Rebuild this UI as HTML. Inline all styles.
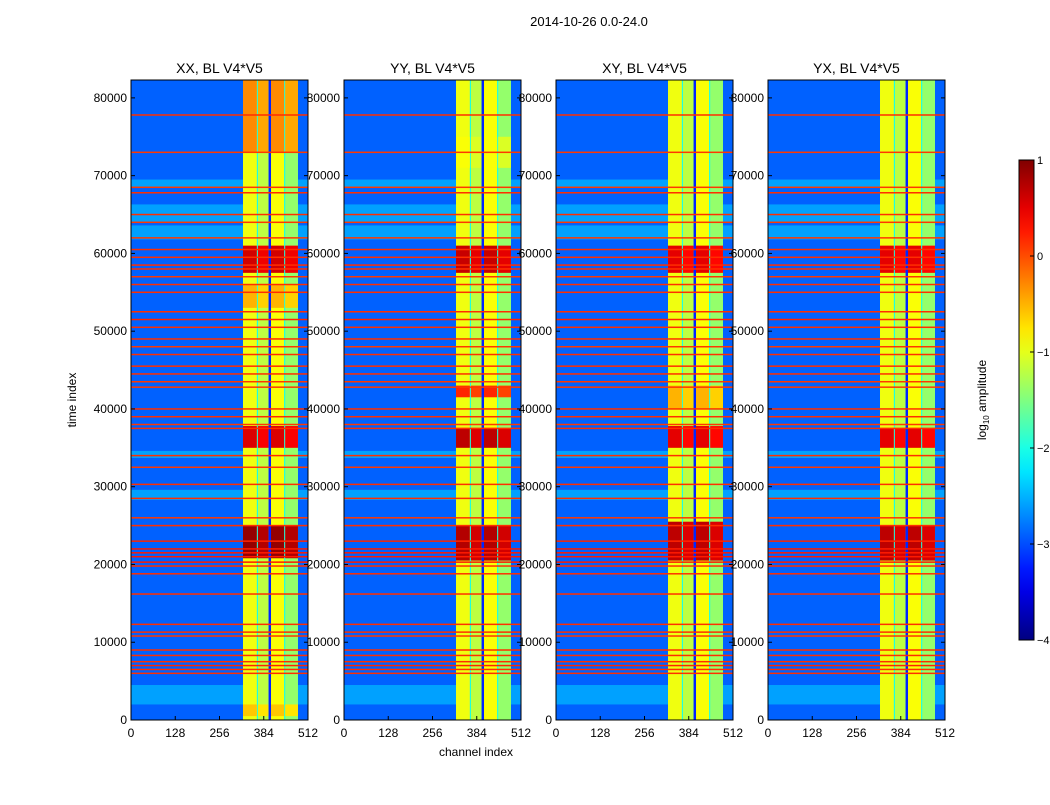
<!DOCTYPE html>
<html><head><meta charset="utf-8">
<style>
body{margin:0;background:#fff;font-family:"Liberation Sans",sans-serif;}
svg text{font-family:"Liberation Sans",sans-serif;fill:#000;}
</style></head>
<body>
<svg id="chart" width="1050" height="800" viewBox="0 0 1050 800" xmlns="http://www.w3.org/2000/svg">
<text x="589" y="26" font-size="13" text-anchor="middle">2014-10-26 0.0-24.0</text>
<text x="476" y="756" font-size="12" text-anchor="middle">channel index</text>
<text x="76" y="400" font-size="12" text-anchor="middle" transform="rotate(-90 76 400)">time index</text>
<g id="panels"></g>
<g id="cbar"></g>
</svg>
<script>
const panelTitles = ["XX, BL V4*V5","YY, BL V4*V5","XY, BL V4*V5","YX, BL V4*V5"];
const xTicks = [0,128,256,384,512];
const yTicks = [0,10000,20000,30000,40000,50000,60000,70000,80000];
const cbarTicks = [1,0,-1,-2,-3,-4];
const rfiTimes = [6000,6500,7000,7500,8300,9000,10800,11300,12300,16200,18800,19800,20300,21000,21500,22000,23000,25000,26000,28500,30300,32500,34000,37500,38000,39000,40000,42800,43500,44500,45500,47000,48000,49000,50500,51500,52500,55000,56000,57000,58000,58500,59500,60500,62000,64000,65000,67800,68500,73000,77800];
const rfiLevel = [0.1,0.1,0.15,0.1,0.1,0.1,0.05,0.1,0.1,0.1,0.1,0.1,0.2,0.2,0.2,0.2,0.15,0.1,0.05,0.1,0.1,0.05,0.1,0.1,0.05,0.1,0.1,0.05,0.05,0.1,0.1,0.1,0.05,0.1,0.1,0.15,0.1,0.1,0.1,0.05,0.1,0.1,0.1,0.1,0.05,0.05,0.1,0.1,0.05,0.05,0.1];
const cyanRows = [[28300,29600],[33700,34600],[61800,63600],[64000,66300],[68500,69500],[2000,4500]];
const bandCols = [[324,364],[367,398],[405,443],[446,483]];
const bandBase = [-0.95,-1.2,-0.9,-1.4];
const hotXX = [[20800,25000,0.9],[35000,37800,0.55],[57500,61000,0.6],[53000,56000,-0.5],[73000,82300,-0.3],[500,2000,-0.6]];
const hotYY = [[20500,25000,0.75],[35000,37500,0.7],[41500,43000,0.2],[57500,61000,0.65],[71000,75000,-0.9]];
const hotXY = [[20500,25500,0.7],[35000,37800,0.5],[57500,61000,0.5],[40000,43000,-0.5]];
const hotYX = [[20500,25000,0.7],[35000,37500,0.5],[57500,61000,0.5]];
const hotSets = [hotXX,hotYY,hotXY,hotYX];
const panelLeft = [131,344,556,768];

const NS="http://www.w3.org/2000/svg";
function mk(tag,attrs,parent){const e=document.createElementNS(NS,tag);for(const k in attrs)e.setAttribute(k,attrs[k]);parent.appendChild(e);return e;}
function jet(v){let t=(v+4)/5;t=Math.max(0,Math.min(1,t));
 const r=Math.max(0,Math.min(1,1.5-Math.abs(4*t-3))),g=Math.max(0,Math.min(1,1.5-Math.abs(4*t-2))),b=Math.max(0,Math.min(1,1.5-Math.abs(4*t-1)));
 return `rgb(${Math.round(r*255)},${Math.round(g*255)},${Math.round(b*255)})`;}
const PW=177, TOP=80, BOT=720, TMAX=82300;
const yS=t=>BOT-(t/TMAX)*(BOT-TOP);
const panelsG=document.getElementById('panels');
panelTitles.forEach((title,p)=>{
 const L=panelLeft[p]; const xS=c=>L+c/512*PW;
 const g=mk('g',{},panelsG);
 
 
 const bg=mk('rect',{x:L,y:TOP,width:PW,height:BOT-TOP,fill:jet(-2.9)},g);
 
 
 cyanRows.forEach(r=>{const e=mk('rect',{x:L,y:yS(r[1]),width:PW,height:yS(r[0])-yS(r[1]),fill:jet(-2.2),opacity:0.45},g);
  
  });
 const bb=mk('rect',{x:xS(bandCols[0][0]),y:TOP,width:xS(bandCols[3][1])-xS(bandCols[0][0]),height:BOT-TOP,fill:jet(-2.1)},g);
 
 
 bandCols.forEach((c,i)=>{const e=mk('rect',{x:xS(c[0]),y:TOP,width:xS(c[1])-xS(c[0]),height:BOT-TOP,fill:jet(bandBase[i])},g);
  
  
  hotSets[p].forEach(h=>{const lo=Math.min(h[0],h[1]),hi=Math.max(h[0],h[1]);
   const r=mk('rect',{x:xS(c[0]),y:yS(hi),width:xS(c[1])-xS(c[0]),height:yS(lo)-yS(hi),fill:jet(h[2]-(i%2)*0.15)},g);
   
   });
 });
 const gap=mk('rect',{x:xS(bandCols[1][1]),y:TOP,width:xS(bandCols[2][0])-xS(bandCols[1][1]),height:BOT-TOP,fill:jet(-3.2)},g);
 
 
 rfiTimes.forEach((t,i)=>{const e=mk('rect',{x:L,y:yS(t)-0.75,width:PW,height:1.5,fill:jet(rfiLevel[i]+0.05)},g);
  
  });
 const fr=mk('rect',{x:L,y:TOP,width:PW,height:BOT-TOP,fill:'none',stroke:'#000','stroke-width':1},g);
 
 
 const tt=mk('text',{x:L+PW/2,y:73,'font-size':14,'text-anchor':'middle'},g); tt.textContent=title;
 
 
 xTicks.forEach(v=>{const x=xS(v);
  mk('line',{x1:x,x2:x,y1:BOT,y2:BOT-4,stroke:'#000'},g);
  const tx=mk('text',{x:x,y:737,'font-size':12,'text-anchor':'middle'},g); tx.textContent=v;
  
  });
 yTicks.forEach(v=>{const y=yS(v);
  mk('line',{x1:L,x2:L+4,y1:y,y2:y,stroke:'#000'},g);
  mk('line',{x1:L+PW,x2:L+PW-4,y1:y,y2:y,stroke:'#000'},g);
  const ty=mk('text',{x:L-4,y:y+4,'font-size':12,'text-anchor':'end'},g); ty.textContent=v;
  
  });
});
// colorbar
const cb=document.getElementById('cbar');
const defs=mk('defs',{},cb);
const grad=mk('linearGradient',{id:'jetg',x1:0,y1:1,x2:0,y2:0},defs);
for(let i=0;i<=20;i++){mk('stop',{offset:i/20,'stop-color':jet(-4+5*i/20)},grad);}
const CT=160,CB=640,cS=v=>CB-(v+4)/5*(CB-CT);
const cr=mk('rect',{x:1019,y:CT,width:15,height:CB-CT,fill:'url(#jetg)',stroke:'#000'},cb);


cbarTicks.forEach(v=>{const y=cS(v);
 mk('line',{x1:1030,x2:1034,y1:y,y2:y,stroke:'#000'},cb);
 const t=mk('text',{x:1037,y:y+4,'font-size':11},cb); t.textContent=v<0?'\u2212'+(-v):v;
 
 });
const cl=mk('text',{x:986,y:400,'font-size':12,'text-anchor':'middle',transform:'rotate(-90 986 400)'},cb);


cl.innerHTML='log<tspan font-size="8" dy="3">10</tspan><tspan dy="-3"> amplitude</tspan>';
</script>
</body></html>
